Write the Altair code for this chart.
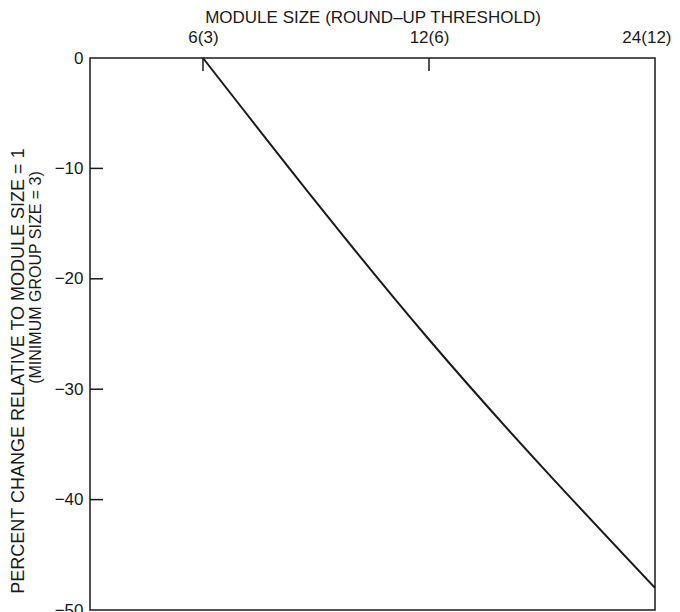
import altair as alt
import pandas as pd

# Data
module_size = [6, 12, 24]
pct_change = [0, -25.5, -48.0]

x_tick_values = [6, 12, 24]
x_tick_labels = ["6(3)", "12(6)", "24(12)"]
x_inner_ticks = [6, 12]

y_tick_values = [0, -10, -20, -30, -40, -50]
y_inner_ticks = [-10, -20, -30, -40]

x_title = "MODULE SIZE (ROUND\u2013UP THRESHOLD)"
y_title_main = "PERCENT CHANGE RELATIVE TO MODULE SIZE = 1"
y_title_sub = "(MINIMUM GROUP SIZE = 3)"

FONT = "Liberation Sans"
INK = "#1a1a1a"

df = pd.DataFrame({"size": module_size, "pct": pct_change})
df_xt = pd.DataFrame({"size": x_inner_ticks})
df_yt = pd.DataFrame({"pct": y_inner_ticks})

label_expr = " : ".join(
    f"datum.value == {v} ? '{l}'" for v, l in zip(x_tick_values, x_tick_labels)
) + " : ''"

x_scale = alt.Scale(type="log", base=2, domain=[4.243, 24], nice=False)
y_scale = alt.Scale(domain=[-50, 0], nice=False)

x_axis = alt.Axis(
    orient="top", values=x_tick_values, labelExpr=label_expr, title=x_title,
    ticks=False, tickSize=0, domain=False, grid=False,
    labelFlush=17, labelFlushOffset=16,
    labelPadding=12, labelFontSize=17, titleFontSize=17,
    labelFont=FONT, titleFont=FONT, labelColor=INK, titleColor=INK,
    titleFontWeight="normal", labelOverlap=False,
    titleY=-36, titleBaseline="alphabetic",
)
y_axis = alt.Axis(
    values=y_tick_values, title=y_title_sub, ticks=False, tickSize=0, domain=False,
    grid=False, labelFlush=False, labelPadding=7,
    labelFontSize=17, titleFontSize=16, labelFont=FONT, titleFont=FONT,
    labelColor=INK, titleColor=INK, titleFontWeight="normal", labelOverlap=False,
    titleX=-55, titleY=219, titleAlign="center", titleBaseline="middle",
)

line = alt.Chart(df).mark_line(color=INK, strokeWidth=2, interpolate="monotone").encode(
    x=alt.X("size:Q", scale=x_scale, axis=x_axis),
    y=alt.Y("pct:Q", scale=y_scale, axis=y_axis),
)

xticks = alt.Chart(df_xt).mark_rule(color=INK, strokeWidth=1.5).encode(
    x=alt.X("size:Q", scale=x_scale, axis=x_axis),
    y=alt.value(0), y2=alt.value(13),
)
yticks = alt.Chart(df_yt).mark_rule(color=INK, strokeWidth=1.5).encode(
    y=alt.Y("pct:Q", scale=y_scale, axis=y_axis),
    x=alt.value(0), x2=alt.value(13),
)

chart = alt.layer(line, xticks, yticks).properties(
    width=565, height=552,
    title=alt.TitleParams(
        text=y_title_main, orient="left", anchor="middle", fontSize=18,
        font=FONT, fontWeight="normal", color=INK, offset=-1, dx=-37,
    ),
    autosize=alt.AutoSizeParams(type="none"),
    padding={"left": 82, "top": 50, "right": 17, "bottom": 4},
    background="white",
).configure_view(stroke=INK, strokeWidth=1.5)

chart.save("out.html", embed_options={"renderer": "svg", "actions": False})
